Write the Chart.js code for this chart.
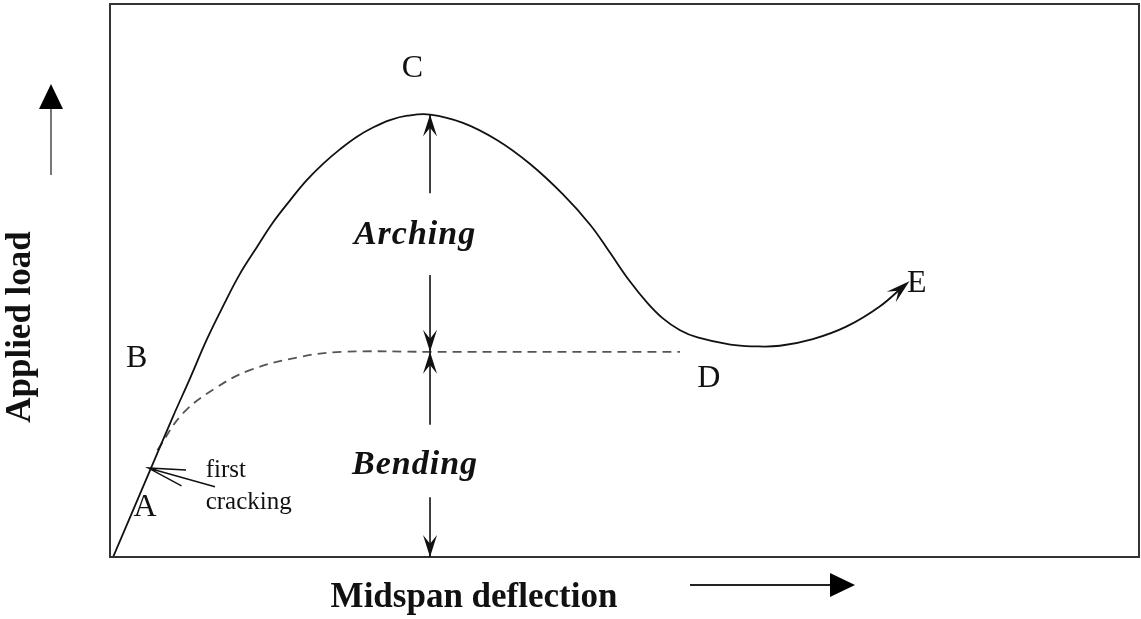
<!DOCTYPE html>
<html>
<head>
<meta charset="utf-8">
<script src="https://cdn.jsdelivr.net/npm/chart.js@4"></script>
<style>
  body { margin: 0; background: #fff; }
  canvas { display: block; }
</style>
</head>
<body>
<canvas id="myChart" width="1141" height="619"></canvas>
<script>
// Load-deflection curve (deflection 0-100, load 0-100, schematic units)
const curveX = [0.3, 3.9, 6.1, 7.8, 9.4, 11.0, 12.6, 14.3, 15.8, 17.5, 19.1, 20.7, 22.4, 24.0, 25.6, 27.2, 28.9, 31.1,
                34.3, 37.6, 40.8, 44.0, 46.7, 48.6, 50.5, 52.2, 53.7, 55.4, 57.1, 60.3, 62.5, 65.1, 68.3, 71.6, 74.8, 77.3];
const curveY = [0, 15.7, 25.3, 32.4, 39.3, 45.4, 51.1, 56.1, 60.4, 64.5, 68.1, 71.1, 73.8, 76.0, 77.7, 79.0, 79.8, 80.0,
                78.5, 75.4, 71.1, 65.6, 60.0, 55.0, 49.9, 46.0, 43.2, 41.0, 39.7, 38.4, 38.1, 38.2, 39.4, 41.7, 45.3, 49.3];

// Bending-only branch (dashed)
const bendX = [4.6, 7.1, 10.4, 13.6, 18.5, 22.6, 31.1, 55.4];
const bendY = [19.3, 26.0, 30.7, 33.8, 36.2, 37.1, 37.1, 37.1];

// Point labels
const pointLabels = ['A', 'B', 'C', 'D', 'E'];
const labelX = [3.4, 2.6, 29.4, 58.2, 78.4];
const labelY = [8.9, 35.8, 88.4, 32.2, 49.4];

// Arching / bending split at the peak
const splitX = 31.1;
const peakY = 80.0;
const bendTopY = 37.1;
const archArrows = [[65.8, peakY], [51.0, bendTopY]];   // [from, to]
const bendArrows = [[23.9, bendTopY], [10.8, 0]];
const regionLabels = ['Arching', 'Bending'];
const regionY = [58.2, 16.6];

// First cracking note
const crackTip = { x: 3.7, y: 16.1 };
const crackTail = { x: 10.2, y: 12.7 };
const crackText = ['first', 'cracking'];
const crackTextX = 9.3;
const crackTextY = [15.7, 9.95];

function toPoints(xs, ys) {
    return xs.map((x, i) => ({ x: x, y: ys[i] }));
}

function arrowHead(ctx, tipX, tipY, angle, len, half, notch) {
    ctx.save();
    ctx.translate(tipX, tipY);
    ctx.rotate(angle);
    ctx.beginPath();
    ctx.moveTo(0, 0);
    ctx.lineTo(-len, half);
    ctx.lineTo(-len * notch, 0);
    ctx.lineTo(-len, -half);
    ctx.closePath();
    ctx.fill();
    ctx.restore();
}

const serif = '"Liberation Serif", "Times New Roman", serif';

const diagramPlugin = {
    id: 'diagram',
    afterDatasetsDraw(chart) {
        const ctx = chart.ctx;
        const xs = chart.scales.x;
        const ys = chart.scales.y;
        const area = chart.chartArea;
        const px = v => xs.getPixelForValue(v);
        const py = v => ys.getPixelForValue(v);

        ctx.save();
        ctx.fillStyle = '#111';
        ctx.strokeStyle = '#111';

        // frame
        ctx.lineWidth = 2;
        ctx.strokeStyle = '#333';
        ctx.strokeRect(area.left, area.top, area.right - area.left, area.bottom - area.top);

        // arrow at end of curve (E)
        const pts = chart.getDatasetMeta(0).data;
        const last = pts[pts.length - 1];
        const prev = pts[pts.length - 2];
        arrowHead(ctx, last.x + 4, last.y - 3, Math.atan2(last.y - prev.y, last.x - prev.x), 24, 7, 0.6);

        // vertical arching / bending arrows
        ctx.strokeStyle = '#111';
        ctx.lineWidth = 1.6;
        const sx = px(splitX);
        archArrows.concat(bendArrows).forEach(a => {
            const y0 = py(a[0]), y1 = py(a[1]);
            ctx.beginPath();
            ctx.moveTo(sx, y0);
            ctx.lineTo(sx, y1);
            ctx.stroke();
            arrowHead(ctx, sx, y1, y1 > y0 ? Math.PI / 2 : -Math.PI / 2, 22, 7, 0.6);
        });

        // region labels
        ctx.font = 'italic bold 34px ' + serif;
        ctx.textAlign = 'center';
        ctx.textBaseline = 'middle';
        ctx.letterSpacing = '1px';
        regionLabels.forEach((t, i) => ctx.fillText(t, sx - 15, py(regionY[i])));
        ctx.letterSpacing = '0px';

        // point labels
        ctx.font = '32px ' + serif;
        pointLabels.forEach((t, i) => ctx.fillText(t, px(labelX[i]), py(labelY[i])));

        // first cracking note
        const tx = px(crackTip.x), ty = py(crackTip.y);
        const lx = px(crackTail.x), ly = py(crackTail.y);
        const ang = Math.atan2(ly - ty, lx - tx);
        ctx.lineWidth = 1.4;
        ctx.beginPath();
        ctx.moveTo(lx, ly);
        ctx.lineTo(tx, ty);
        ctx.moveTo(tx + 38 * Math.cos(ang - 0.22), ty + 38 * Math.sin(ang - 0.22));
        ctx.lineTo(tx, ty);
        ctx.lineTo(tx + 38 * Math.cos(ang + 0.22), ty + 38 * Math.sin(ang + 0.22));
        ctx.stroke();
        ctx.font = '25px ' + serif;
        ctx.textAlign = 'left';
        crackText.forEach((t, i) => ctx.fillText(t, px(crackTextX), py(crackTextY[i])));

        // axis titles with direction arrows
        ctx.font = 'bold 35px ' + serif;
        ctx.textAlign = 'center';
        ctx.fillText('Midspan deflection', 474, 598);
        ctx.save();
        ctx.translate(21, 327);
        ctx.rotate(-Math.PI / 2);
        ctx.fillText('Applied load', 0, 0);
        ctx.restore();

        ctx.strokeStyle = '#222';
        ctx.lineWidth = 2;
        ctx.beginPath();
        ctx.moveTo(690, 585);
        ctx.lineTo(832, 585);
        ctx.stroke();
        ctx.fillStyle = '#000';
        arrowHead(ctx, 855, 585, 0, 25, 12, 1);

        ctx.strokeStyle = '#777';
        ctx.beginPath();
        ctx.moveTo(51, 175);
        ctx.lineTo(51, 108);
        ctx.stroke();
        arrowHead(ctx, 51, 84, -Math.PI / 2, 25, 12, 1);

        ctx.restore();
    }
};

const ctx = document.getElementById('myChart').getContext('2d');

const myChart = new Chart(ctx, {
    type: 'scatter',
    data: {
        datasets: [{
            label: 'Total response',
            data: toPoints(curveX, curveY),
            showLine: true,
            borderColor: '#111',
            borderWidth: 1.8,
            pointRadius: 0,
            tension: 0.4
        }, {
            label: 'Bending',
            data: toPoints(bendX, bendY),
            showLine: true,
            borderColor: '#555',
            borderWidth: 1.8,
            borderDash: [9, 6],
            pointRadius: 0,
            tension: 0.4
        }]
    },
    options: {
        responsive: false,
        animation: false,
        layout: {
            padding: { left: 110, right: 2, top: 4, bottom: 62 }
        },
        scales: {
            x: { type: 'linear', min: 0, max: 100, display: false },
            y: { type: 'linear', min: 0, max: 100, display: false }
        },
        plugins: {
            legend: { display: false },
            tooltip: { enabled: false }
        }
    },
    plugins: [diagramPlugin]
});
</script>
</body>
</html>
